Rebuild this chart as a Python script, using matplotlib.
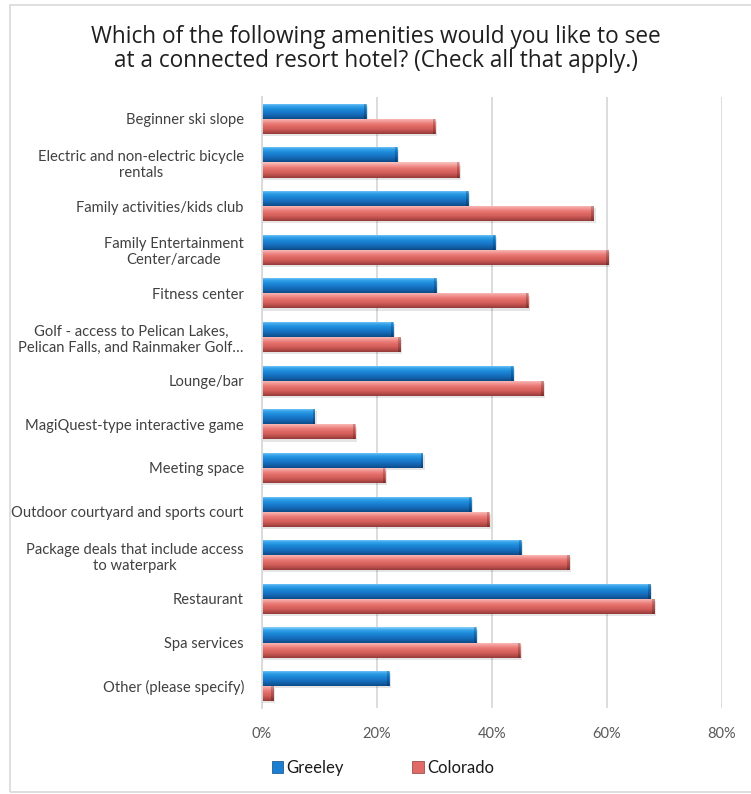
import numpy as np
import matplotlib
matplotlib.use("Agg")
import matplotlib.pyplot as plt
from matplotlib.patches import Rectangle, Patch
from matplotlib.colors import LinearSegmentedColormap

plt.rcParams["font.family"] = ["Lato", "DejaVu Sans"]

categories = [
    "Beginner ski slope",
    "Electric and non-electric bicycle\nrentals",
    "Family activities/kids club",
    "Family Entertainment\nCenter/arcade",
    "Fitness center",
    "Golf - access to Pelican Lakes,\nPelican Falls, and Rainmaker Golf…",
    "Lounge/bar",
    "MagiQuest-type interactive game",
    "Meeting space",
    "Outdoor courtyard and sports court",
    "Package deals that include access\nto waterpark",
    "Restaurant",
    "Spa services",
    "Other (please specify)",
]
greeley = [18.1, 23.5, 35.9, 40.6, 30.3, 22.8, 43.7, 9.2, 28.0, 36.4, 45.1, 67.6, 37.3, 22.1]
colorado = [30.1, 34.3, 57.7, 60.3, 46.3, 24.1, 49.0, 16.2, 21.4, 39.5, 53.5, 68.3, 44.9, 2.0]
series_names = ["Greeley", "Colorado"]
x_ticks = [0, 20, 40, 60, 80]

title = "Which of the following amenities would you like to see\nat a connected resort hotel? (Check all that apply.)"

W, H = 751, 794
fig = plt.figure(figsize=(W / 100, H / 100), dpi=100)
fig.patch.set_facecolor("white")

# outer chart frame
fig.add_artist(Rectangle((10 / W, 0.002), 1.2, 1 - 5 / H - 0.002, transform=fig.transFigure,
                         fill=False, edgecolor="#D9D9D9", linewidth=1.2))

ax = fig.add_axes([262 / W, 1 - 708 / H, (722 - 262) / W, (708 - 97) / H])

n = len(categories)
y = np.arange(n)
bh = 0.345

blue_cmap = LinearSegmentedColormap.from_list(
    "blue3d", ["#8FD3FA", "#3AA6EC", "#2290DE", "#1A7FD0", "#1670BF", "#125FA6", "#0C4A86"])
red_cmap = LinearSegmentedColormap.from_list(
    "red3d", ["#FCC4C1", "#F4A19D", "#EC7E7A", "#E06A66", "#D35F5B", "#B94D4A", "#923B39"])

bars_g = ax.barh(y - bh / 2, greeley, height=bh, color="#1A7FD0", zorder=3, linewidth=0)
bars_c = ax.barh(y + bh / 2, colorado, height=bh, color="#E06A66", zorder=3, linewidth=0)

grad = np.linspace(0, 1, 64).reshape(-1, 1)
for bars, cmap in ((bars_g, blue_cmap), (bars_c, red_cmap)):
    for p in bars:
        x0, y0 = p.get_x(), p.get_y()
        w, h = p.get_width(), p.get_height()
        # soft drop shadow
        ax.add_patch(Rectangle((x0, y0 + 0.05), w + 0.3, h, facecolor="#000000",
                               alpha=0.10, linewidth=0, zorder=2))
        im = ax.imshow(grad, cmap=cmap, aspect="auto", extent=(x0, x0 + w, y0 + h, y0),
                       zorder=4, interpolation="bilinear")
        im.set_clip_path(p)
        # darker cap at the bar end
        cap = min(0.4, w * 0.3)
        ax.add_patch(Rectangle((x0 + w - cap, y0), cap, h,
                               facecolor="#000000", alpha=0.2, linewidth=0, zorder=5))

ax.set_xlim(0, 80)
ax.set_ylim(n - 0.5, -0.5)
ax.set_xticks(x_ticks)
ax.set_xticklabels([f"{t}%" for t in x_ticks])
ax.set_yticks(y)
ax.set_yticklabels(categories, ha="right", multialignment="center")

ax.tick_params(axis="x", length=0, pad=14, labelsize=10.5, labelcolor="#595959")
ax.tick_params(axis="y", length=0, pad=13, labelsize=10.6, labelcolor="#404040")

ax.grid(axis="x", color="#D9D9D9", linewidth=1.3, zorder=0)
ax.set_axisbelow(True)
for s in ("top", "right", "bottom"):
    ax.spines[s].set_visible(False)
ax.spines["left"].set_color("#D9D9D9")
ax.spines["left"].set_linewidth(1.3)
ax.spines["left"].set_zorder(6)

fig.text(0.5, 1 - 49 / H, title, ha="center", va="center", fontsize=16.3,
         family=["Open Sans", "DejaVu Sans"], color="#1F1F1F", linespacing=1.05)

handles = [Patch(facecolor="#1A7FD0", edgecolor="#0C4A86", linewidth=0.5),
           Patch(facecolor="#E06A66", edgecolor="#923B39", linewidth=0.5)]
fig.legend(handles, series_names, loc="center", bbox_to_anchor=(383 / W, 1 - 768 / H),
           ncol=2, frameon=False, fontsize=12, handlelength=0.7, handleheight=0.7,
           handletextpad=0.2, columnspacing=4.1, labelcolor="#1A1A1A")

fig.savefig("out.png", dpi=100, facecolor="white")
